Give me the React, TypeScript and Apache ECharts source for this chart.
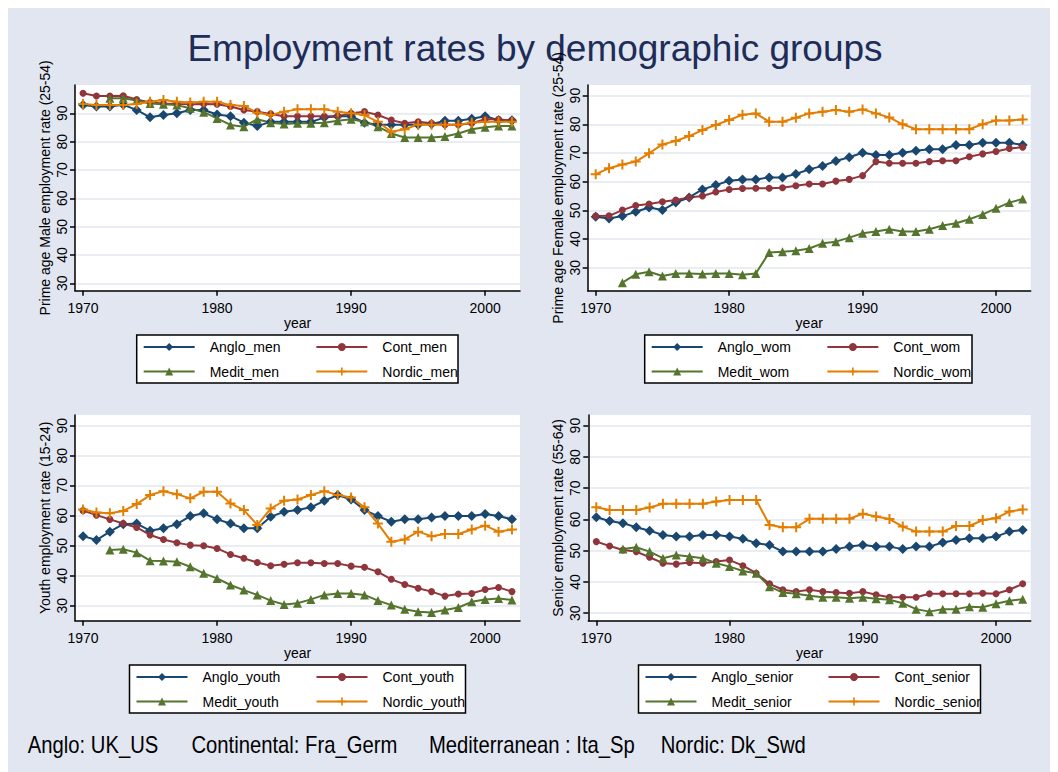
import React, { useEffect, useRef } from "react";
import * as echarts from "echarts";

const years = [1970, 1971, 1972, 1973, 1974, 1975, 1976, 1977, 1978, 1979, 1980, 1981, 1982, 1983, 1984, 1985, 1986, 1987, 1988, 1989, 1990, 1991, 1992, 1993, 1994, 1995, 1996, 1997, 1998, 1999, 2000, 2001, 2002];

const xTicks = [1970, 1980, 1990, 2000];
const yTicks = [30, 40, 50, 60, 70, 80, 90];

// Prime age men
const angloMen = [92.9, 92.4, 92.4, 93.0, 91.2, 88.6, 89.4, 90.0, 91.2, 91.2, 89.6, 89.0, 86.7, 85.5, 87.0, 87.0, 87.0, 87.0, 88.5, 89.0, 89.0, 86.7, 86.0, 86.0, 86.0, 86.0, 86.2, 87.4, 87.4, 88.1, 89.0, 87.6, 87.6];
const contMen = [97.1, 96.1, 96.1, 96.2, 94.9, 93.8, 93.5, 93.3, 93.2, 93.3, 93.2, 92.4, 91.2, 90.6, 89.8, 89.0, 89.0, 89.0, 89.0, 89.0, 90.0, 90.6, 89.4, 87.6, 86.5, 87.0, 86.5, 86.0, 86.0, 86.5, 87.9, 87.9, 87.4];
const meditMen = [null, null, 95.3, 95.3, 94.5, 93.5, 93.2, 92.9, 91.8, 90.4, 88.2, 85.9, 85.3, 87.9, 86.7, 86.2, 86.5, 86.5, 86.7, 87.4, 87.9, 87.0, 85.3, 82.9, 81.5, 81.5, 81.5, 81.8, 82.9, 84.4, 85.1, 85.5, 85.5];
const nordicMen = [93.3, 92.9, 92.9, 92.9, 93.3, 94.1, 94.7, 94.1, 93.8, 94.1, 94.1, 92.9, 92.6, 90.2, 89.4, 90.6, 91.4, 91.4, 91.4, 90.6, 90.0, 89.4, 87.0, 83.5, 84.4, 86.0, 86.0, 86.0, 86.0, 86.7, 87.0, 87.0, 87.0];

// Prime age women
const angloWom = [47.8, 47.2, 48.0, 49.5, 51.0, 50.1, 52.7, 54.5, 57.3, 58.8, 60.3, 60.8, 60.8, 61.5, 61.5, 62.7, 64.3, 65.5, 67.2, 68.5, 70.1, 69.3, 69.3, 70.1, 70.8, 71.3, 71.3, 72.8, 72.8, 73.6, 73.6, 73.6, 72.8];
const contWom = [48.0, 48.1, 50.1, 51.7, 52.2, 53.0, 53.6, 54.5, 55.0, 56.4, 57.3, 57.6, 57.7, 57.7, 57.9, 58.6, 59.2, 59.2, 60.2, 60.8, 62.1, 67.0, 66.4, 66.4, 66.4, 67.0, 67.3, 67.3, 68.7, 69.7, 70.5, 71.6, 72.0];
const meditWom = [null, null, 24.8, 27.7, 28.6, 27.1, 28.0, 28.0, 27.8, 28.0, 28.0, 27.6, 28.0, 35.3, 35.6, 35.9, 36.7, 38.5, 39.1, 40.5, 42.0, 42.6, 43.4, 42.6, 42.6, 43.4, 44.7, 45.5, 46.9, 48.6, 50.7, 52.7, 54.0];
const nordicWom = [62.6, 64.7, 66.0, 67.0, 69.9, 73.0, 74.2, 75.9, 78.0, 79.8, 81.5, 83.3, 83.8, 80.9, 80.9, 82.3, 83.8, 84.4, 85.0, 84.4, 85.2, 83.8, 82.4, 80.0, 78.3, 78.3, 78.3, 78.3, 78.3, 80.0, 81.3, 81.3, 81.7];

// Youth
const angloYouth = [53.2, 51.9, 54.7, 57.2, 57.4, 55.0, 55.8, 57.2, 59.9, 60.8, 58.8, 57.4, 55.8, 55.8, 59.7, 61.3, 61.9, 62.8, 65.0, 66.9, 65.4, 61.9, 59.9, 58.0, 58.8, 58.8, 59.4, 59.9, 59.9, 59.9, 60.6, 59.9, 58.8];
const contYouth = [61.7, 60.2, 58.8, 57.4, 56.1, 53.6, 52.1, 51.0, 50.2, 50.0, 49.1, 47.1, 45.8, 44.4, 43.3, 43.8, 44.3, 44.3, 44.1, 44.1, 43.2, 42.8, 41.3, 38.8, 37.1, 35.8, 34.7, 33.2, 33.9, 34.1, 35.4, 36.1, 34.7];
const meditYouth = [null, null, 48.6, 48.8, 47.7, 45.0, 44.9, 44.7, 43.0, 40.8, 39.1, 36.9, 35.2, 33.6, 31.7, 30.4, 30.8, 32.1, 33.6, 34.1, 34.1, 33.6, 31.7, 30.2, 28.8, 28.0, 27.7, 28.6, 29.4, 31.3, 32.1, 32.4, 31.9];
const nordicYouth = [62.1, 61.1, 60.8, 61.6, 63.9, 66.9, 68.2, 67.2, 65.8, 68.0, 68.0, 64.1, 61.9, 56.9, 62.4, 65.0, 65.4, 66.9, 68.2, 66.9, 66.1, 62.8, 57.4, 51.3, 52.1, 54.7, 53.2, 53.9, 53.9, 55.4, 56.7, 54.7, 55.4];

// Seniors
const angloSenior = [60.7, 59.5, 58.8, 57.5, 56.4, 55.0, 54.5, 54.5, 55.0, 55.0, 54.5, 53.8, 52.4, 51.8, 49.7, 49.7, 49.7, 49.7, 50.5, 51.3, 51.8, 51.3, 51.3, 50.5, 51.3, 51.3, 52.6, 53.4, 54.0, 54.0, 54.5, 56.1, 56.6];
const contSenior = [52.9, 51.5, 50.2, 49.7, 47.9, 46.0, 45.7, 46.2, 46.0, 46.5, 47.0, 45.2, 42.8, 39.4, 37.5, 36.9, 37.5, 36.9, 36.6, 36.4, 36.9, 35.9, 35.1, 35.1, 35.1, 36.2, 36.2, 36.2, 36.2, 36.4, 36.2, 37.5, 39.4];
const meditSenior = [null, null, 50.5, 51.1, 49.7, 47.6, 48.6, 48.1, 47.6, 46.0, 44.9, 43.5, 42.8, 38.5, 36.6, 36.2, 35.6, 35.1, 35.1, 34.8, 35.1, 34.6, 34.3, 33.2, 31.3, 30.5, 31.3, 31.3, 32.1, 31.9, 33.0, 34.0, 34.5];
const nordicSenior = [63.9, 63.0, 63.0, 63.0, 63.8, 65.0, 65.0, 65.0, 65.0, 65.7, 66.2, 66.2, 66.2, 58.2, 57.5, 57.5, 60.2, 60.2, 60.2, 60.2, 61.8, 60.9, 60.1, 57.7, 56.1, 56.1, 56.1, 57.9, 57.9, 59.8, 60.4, 62.5, 63.2];

const titleText = "Employment rates by demographic groups";
const noteTexts = ["Anglo: UK_US", "Continental: Fra_Germ", "Mediterranean : Ita_Sp", "Nordic: Dk_Swd"];

const COLORS = ["#1a476f", "#90353b", "#55752f", "#e37e00"];
const PLUS = "path://M4,0L6,0L6,4L10,4L10,6L6,6L6,10L4,10L4,6L0,6L0,4L4,4Z";
const SYMBOLS = ["diamond", "circle", "triangle", PLUS];
const SIZES = [10, 7, 9, 10];
const FONT = "Liberation Sans, Arial, Helvetica, sans-serif";

const panels = [
  {
    names: ["Anglo_men", "Cont_men", "Medit_men", "Nordic_men"],
    values: [angloMen, contMen, meditMen, nordicMen],
    yName: "Prime age Male employment rate (25-54)",
    yMin: 27.4, yMax: 100,
    grid: { left: 67, top: 77, width: 445, height: 205.7 },
    box: { x: 128.7, y: 327, w: 321.3 },
  },
  {
    names: ["Anglo_wom", "Cont_wom", "Medit_wom", "Nordic_wom"],
    values: [angloWom, contWom, meditWom, nordicWom],
    yName: "Prime age Female employment rate (25-54)",
    yMin: 22, yMax: 93.7,
    grid: { left: 579.7, top: 77, width: 443, height: 205.7 },
    box: { x: 636.7, y: 327, w: 327.3 },
  },
  {
    names: ["Anglo_youth", "Cont_youth", "Medit_youth", "Nordic_youth"],
    values: [angloYouth, contYouth, meditYouth, nordicYouth],
    yName: "Youth employment rate (15-24)",
    yMin: 25, yMax: 93.6,
    grid: { left: 67, top: 407, width: 445, height: 205.7 },
    box: { x: 121.5, y: 657, w: 336 },
  },
  {
    names: ["Anglo_senior", "Cont_senior", "Medit_senior", "Nordic_senior"],
    values: [angloSenior, contSenior, meditSenior, nordicSenior],
    yName: "Senior employment rate (55-64)",
    yMin: 27.6, yMax: 93.4,
    grid: { left: 580.3, top: 407, width: 442.4, height: 205.7 },
    box: { x: 630.5, y: 657, w: 342 },
  },
];

function buildOption() {
  const grid: any[] = [];
  const xAxis: any[] = [];
  const yAxis: any[] = [];
  const series: any[] = [];
  const legend: any[] = [];
  const graphic: any[] = [];

  panels.forEach((p, pi) => {
    grid.push({
      ...p.grid,
      show: true,
      backgroundColor: "#ffffff",
      borderWidth: 0,
      containLabel: false,
      outerBoundsMode: "none",
    });
    xAxis.push({
      gridIndex: pi,
      type: "value",
      min: 1969.4,
      max: 2002.6,
      name: "year",
      nameLocation: "middle",
      nameGap: 24,
      nameTextStyle: { fontSize: 14, color: "#000", fontFamily: FONT },
      axisLine: { show: true, onZero: false, lineStyle: { color: "#000", width: 1.5 } },
      axisTick: { show: true, length: 5, lineStyle: { color: "#000", width: 1.5 }, customValues: xTicks },
      axisLabel: {
        customValues: xTicks,
        fontSize: 14,
        color: "#000",
        margin: 10,
        fontFamily: FONT,
        formatter: (v: number) => String(Math.round(v)),
      },
      splitLine: { show: false },
    });
    yAxis.push({
      gridIndex: pi,
      type: "value",
      min: p.yMin,
      max: p.yMax,
      name: p.yName,
      nameLocation: "middle",
      nameGap: 23,
      nameTextStyle: { fontSize: 14, color: "#000", fontFamily: FONT },
      axisLine: { show: true, onZero: false, lineStyle: { color: "#000", width: 1.5 } },
      axisTick: { show: true, length: 5, lineStyle: { color: "#000", width: 1.5 }, customValues: yTicks },
      axisLabel: {
        customValues: yTicks,
        rotate: 90,
        fontSize: 14,
        color: "#000",
        margin: 6,
        fontFamily: FONT,
        formatter: (v: number) => String(Math.round(v)),
      },
      splitLine: { show: true, lineStyle: { color: "#e3e9ef", width: 1.5 } },
    });
    p.names.forEach((name, si) => {
      series.push({
        name,
        type: "line",
        xAxisIndex: pi,
        yAxisIndex: pi,
        data: years.map((y, i) => [y, p.values[si][i]]),
        symbol: SYMBOLS[si],
        symbolSize: SIZES[si],
        showAllSymbol: true,
        connectNulls: false,
        lineStyle: { color: COLORS[si], width: 2 },
        itemStyle: { color: COLORS[si], borderWidth: 0 },
        emphasis: { disabled: true },
      });
    });
    const b = p.box;
    graphic.push({
      type: "rect",
      shape: { x: b.x, y: b.y, width: b.w, height: 48 },
      style: { fill: "#ffffff", stroke: "#000000", lineWidth: 1.5 },
      z: 0,
    });
    const cols = [b.x + 6, b.x + b.w / 2 + 18];
    const rows = [b.y + 13, b.y + 37.5];
    p.names.forEach((name, si) => {
      const col = si % 2;
      const row = Math.floor(si / 2);
      legend.push({
        show: true,
        data: [name],
        left: cols[col],
        top: rows[row] - 8,
        padding: 0,
        itemWidth: 51,
        itemHeight: 10,
        itemGap: 0,
        selectedMode: false,
        textStyle: { fontSize: 14, color: "#000", fontFamily: FONT, padding: [0, 0, 0, 10] },
      });
    });
  });

  graphic.push({
    type: "text",
    x: 527,
    y: 40,
    style: {
      text: titleText,
      fontSize: 37,
      fontFamily: FONT,
      fill: "#1e2c58",
      align: "center",
      verticalAlign: "middle",
    },
  });
  const noteX = [19.8, 183.5, 421, 652.7];
  noteTexts.forEach((t, i) => {
    graphic.push({
      type: "text",
      x: noteX[i],
      y: 737,
      scaleX: 0.88,
      style: {
        text: t,
        fontSize: 23,
        fontFamily: FONT,
        fill: "#000",
        align: "left",
        verticalAlign: "middle",
      },
    });
  });

  return {
    animation: false,
    backgroundColor: "#e1e6f1",
    grid,
    xAxis,
    yAxis,
    series,
    legend,
    graphic,
  };
}

export default function App() {
  const ref = useRef<HTMLDivElement>(null);
  useEffect(() => {
    if (!ref.current) return;
    const chart = echarts.init(ref.current, null, { renderer: "svg" });
    chart.setOption(buildOption() as any);
    return () => chart.dispose();
  }, []);
  return <div ref={ref} style={{ width: 1050, height: 764 }} />;
}
